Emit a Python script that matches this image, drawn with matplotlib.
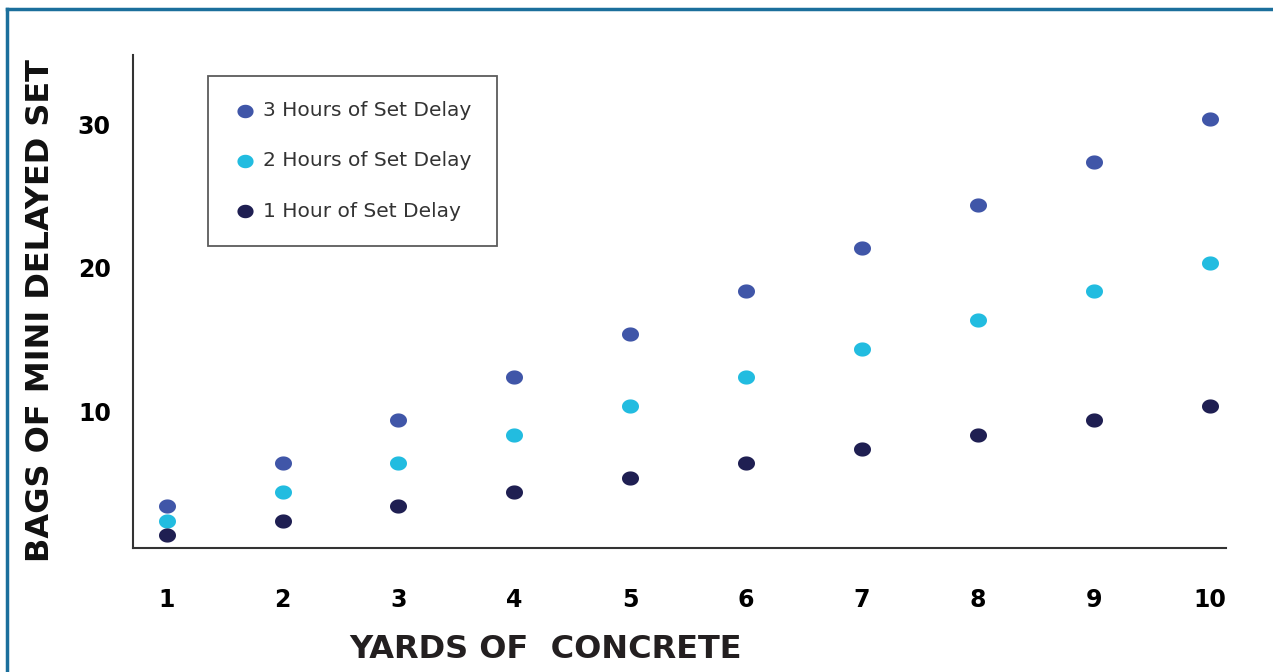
import matplotlib.pyplot as plt
import matplotlib.transforms as mtrans
from matplotlib.lines import Line2D
from matplotlib.path import Path
from matplotlib.markers import MarkerStyle
import numpy as np

# data
yards = [1, 2, 3, 4, 5, 6, 7, 8, 9, 10]
delay_3h = [3, 6, 9, 12, 15, 18, 21, 24, 27, 30]
delay_2h = [2, 4, 6, 8, 10, 12, 14, 16, 18, 20]
delay_1h = [1, 2, 3, 4, 5, 6, 7, 8, 9, 10]

series_names = ['3 Hours of Set Delay', '2 Hours of Set Delay', '1 Hour of Set Delay']
series_colors = ['#4056a8', '#22bce0', '#1f1f52']
x_ticks = [1, 2, 3, 4, 5, 6, 7, 8, 9, 10]
y_ticks = [10, 20, 30]

heavy = 'DejaVu Sans'
text_dark = '#111111'

#slightly wide ellipse marker, like the original dots
t = np.linspace(0, 2 * np.pi, 60)
ell = Path(np.column_stack([1.2 * np.cos(t), np.sin(t)]), closed=True)
dot = MarkerStyle(ell)

fig = plt.figure(figsize=(12.73, 6.72), dpi=100)
ax = fig.add_axes([133 / 1273, 1 - 548 / 672, (1226 - 133) / 1273, (548 - 55) / 672])

for ys, name, col in zip([delay_3h, delay_2h, delay_1h], series_names, series_colors):
    ax.scatter(yards, ys, s=150, marker=dot, color=col, label=name, linewidths=0)

ax.set_xlim(0.71, 10.14)
ax.set_ylim(0.1, 34.5)

for s in ['top', 'right']:
    ax.spines[s].set_visible(False)
ax.spines['left'].set_linewidth(1.5)
ax.spines['bottom'].set_linewidth(1.5)
ax.spines['left'].set_color('#333333')
ax.spines['bottom'].set_color('#333333')

ax.set_xticks(x_ticks)
ax.set_yticks(y_ticks)
ax.tick_params(axis='both', length=0)
ax.tick_params(axis='x', pad=29)
ax.tick_params(axis='y', pad=16)
for lab in ax.get_xticklabels() + ax.get_yticklabels():
    lab.set_fontfamily(heavy)
    lab.set_fontweight('heavy')
    lab.set_fontsize(17)
    lab.set_color('black')
# the y numbers sit a little below their gridline value in the original
shift = mtrans.ScaledTranslation(0, -5 / 100, fig.dpi_scale_trans)
for lab in ax.get_yticklabels():
    lab.set_transform(lab.get_transform() + shift)

fig.text(41 / 1273, 1 - 311 / 672, 'BAGS OF MINI DELAYED SET', rotation=90,
         ha='center', va='center', fontsize=23, fontweight='heavy',
         family=heavy, color=text_dark)
fig.text(546 / 1273, 1 - 650 / 672, 'YARDS OF  CONCRETE', ha='center', va='center',
         fontsize=23, fontweight='heavy', family=heavy, color='#231f20')

leg = ax.legend(loc='upper left', bbox_to_anchor=(75 / 1093, 1 - 21 / 493),
                frameon=True, fancybox=False, fontsize=14.5, labelspacing=1.55,
                handletextpad=0.3, borderpad=1.25, borderaxespad=0,
                handlelength=1.2, markerscale=0.95)
leg.get_frame().set_edgecolor('#333333')
leg.get_frame().set_linewidth(1.3)
for txt in leg.get_texts():
    txt.set_color('#333333')

# blue frame around the picture
fig.add_artist(Line2D([7 / 1273, 7 / 1273], [0, 1 - 9 / 672], color='#1b6f9c', lw=2.5))
fig.add_artist(Line2D([7 / 1273, 1], [1 - 9 / 672, 1 - 9 / 672], color='#1b6f9c', lw=2.5))

fig.savefig('out.png', dpi=100)
